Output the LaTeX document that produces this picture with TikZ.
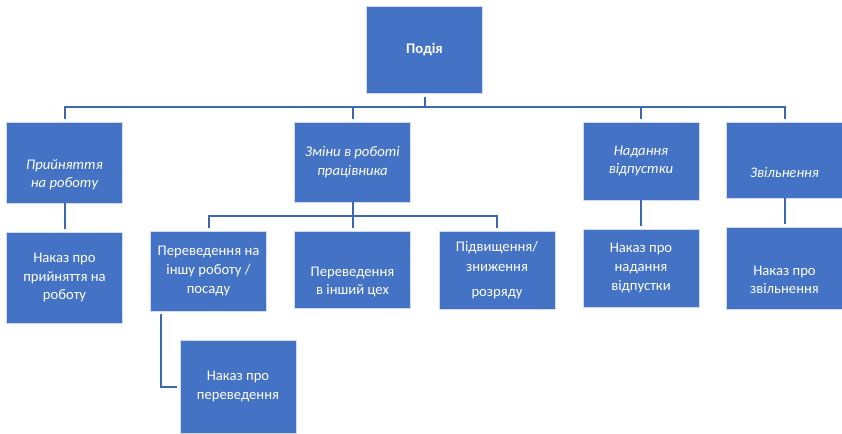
\documentclass[tikz,border=0pt]{standalone}
\usepackage{fontspec}
\setmainfont{Carlito}
\usepackage{tikz}
\definecolor{boxc}{HTML}{4472C4}
\definecolor{linec}{HTML}{3F67B1}
\tikzset{
  box/.style={rectangle, fill=boxc, draw=white!75!boxc, line width=0.6pt,
    minimum width=87pt, inner sep=2pt, text=white, align=center,
    font=\fontsize{11}{13.9}\selectfont},
  boxtext/.style={text=white, align=center, font=\fontsize{11}{13.9}\selectfont},
  conn/.style={draw=linec, line width=1.5pt, shorten <=2pt, shorten >=2pt}
}

\begin{document}
\begin{tikzpicture}[x=0.75pt,y=-0.75pt]
\useasboundingbox (0,0) rectangle (842,433);
% top
\node[box, minimum height=65.25pt] (podiya) at (424.5,49.5) {\bfseries Подія};
% second row
\node[box, minimum height=60.75pt, label={[boxtext, yshift=-9.3pt]center:{\itshape Прийняття\\ \itshape на роботу}}] (pryin) at (64.5,162.5) {};
\node[box, minimum height=60pt] (zminy) at (352.5,162) {\itshape Зміни в роботі\\ \itshape працівника};
\node[box, minimum height=58.5pt] (nadan) at (641,161) {\itshape Надання\\ \itshape відпустки};
\node[box, minimum height=57pt, label={[boxtext, yshift=-9.6pt]center:{\itshape Звільнення}}] (zvil) at (784.5,160) {};
% third row
\node[box, minimum height=68.25pt] (nkpryin) at (64.5,277.5) {Наказ про\\прийняття на\\роботу};
\node[box, minimum height=60pt] (perinsh) at (208.5,271) {Переведення на\\іншу роботу /\\посаду};
\node[box, minimum height=57.75pt, label={[boxtext, yshift=-9.3pt]center:{Переведення\\в інший цех}}] (pertseh) at (352.5,269.5) {};
\node[box, minimum height=58.5pt] (rozryad) at (497,270) {Підвищення/\\[1.1pt]зниження\\[4.9pt]розряду};
\node[box, minimum height=58.5pt] (nknadan) at (641,268) {Наказ про\\надання\\відпустки};
\node[box, minimum height=61.5pt, label={[boxtext, yshift=-9pt]center:{Наказ про\\звільнення}}] (nkzvil) at (784.5,268) {};
% bottom
\node[box, minimum height=69.75pt] (nkper) at (238,386.5) {Наказ про\\переведення};
% connectors
\draw[conn, shorten <=3pt] (podiya.south) -- ++(0,14) -| (pryin.north);
\draw[conn, shorten <=3pt] (podiya.south) -- ++(0,14) -| (zminy.north);
\draw[conn, shorten <=3pt] (podiya.south) -- ++(0,14) -| (nadan.north);
\draw[conn, shorten <=3pt] (podiya.south) -- ++(0,14) -| (zvil.north);
\draw[conn, shorten <=0pt] (zminy.south) -- ++(0,14) -| (perinsh.north);
\draw[conn, shorten <=0pt] (zminy.south) -- ++(0,14) -| (pertseh.north);
\draw[conn, shorten <=0pt] (zminy.south) -- ++(0,14) -| (rozryad.north);
\draw[conn, shorten <=0pt] (pryin.south) -- (nkpryin.north);
\draw[conn, shorten <=0pt] (nadan.south) -- (nknadan.north);
\draw[conn, shorten <=0pt] (zvil.south) -- (nkzvil.north);
\draw[conn] ([xshift=8.25pt]perinsh.south west) |- (nkper.west);
\end{tikzpicture}
\end{document}
